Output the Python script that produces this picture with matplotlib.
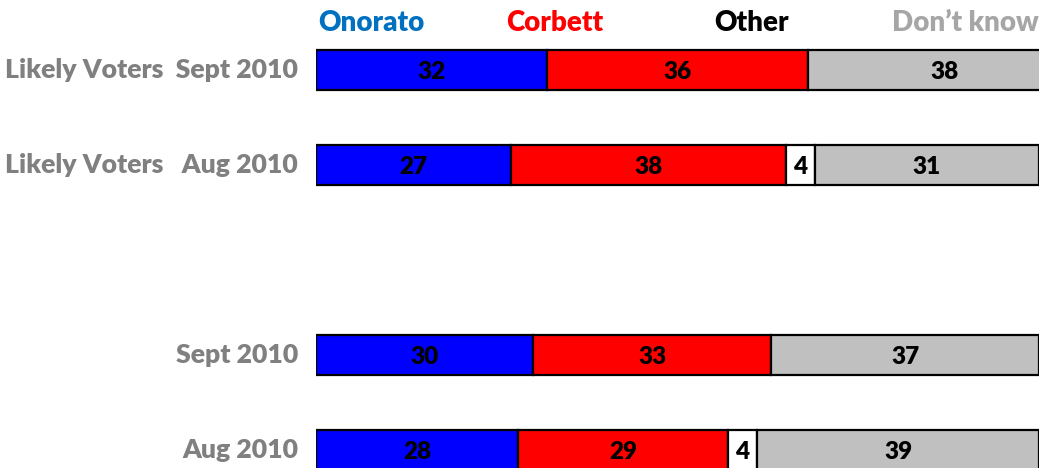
import matplotlib
matplotlib.use("Agg")
import matplotlib.pyplot as plt
import numpy as np

categories = ["Likely Voters  Sept 2010", "Likely Voters   Aug 2010", "", "Sept 2010", "Aug 2010"]
series_names = ["Onorato", "Corbett", "Other", "Don\u2019t know"]
onorato = [32, 27, None, 30, 28]
corbett = [36, 38, None, 33, 29]
other = [0, 4, None, 0, 4]
dont_know = [38, 31, None, 37, 39]

bar_colors = ["#0000FF", "#FF0000", "#FFFFFF", "#C0C0C0"]
legend_colors = ["#0070C0", "#FF0000", "#000000", "#A6A6A6"]
legend_x = [7.7, 33.0, 60.3, 89.8]

plt.rcParams['font.family'] = ['Lato', 'DejaVu Sans']

W, H = 1039, 468
fig = plt.figure(figsize=(W / 100, H / 100), dpi=100)
ax = fig.add_axes([316 / W, 0, (W - 316) / W, 1])

unit = 95.0
top = -70.0 / unit
bottom = top + H / unit
ax.set_ylim(bottom, top)
ax.set_xlim(0, 100)

series = [onorato, corbett, other, dont_know]
for i, cat in enumerate(categories):
    if onorato[i] is None:
        continue
    left = 0
    for s, col in zip(series, bar_colors):
        v = s[i]
        if v and v > 0:
            ax.barh(i, v, left=left, height=0.42, color=col, edgecolor="black", linewidth=1.6)
            cx = left + v / 2
            if cx < 100:
                ax.text(cx, i + 0.02, str(v), ha="center", va="center", fontsize=17.5,
                        fontweight="heavy", color="black")
            left += v
    ax.text(-2.5, i, cat, ha="right", va="center", fontsize=19.2,
            fontweight="heavy", color="#808080", clip_on=False)

for name, x, col in zip(series_names, legend_x, legend_colors):
    ax.text(x, top + 23 / unit, name, ha="center", va="center", fontsize=20,
            fontweight="heavy", color=col)

ax.axis("off")
fig.savefig("out.png", dpi=100)
